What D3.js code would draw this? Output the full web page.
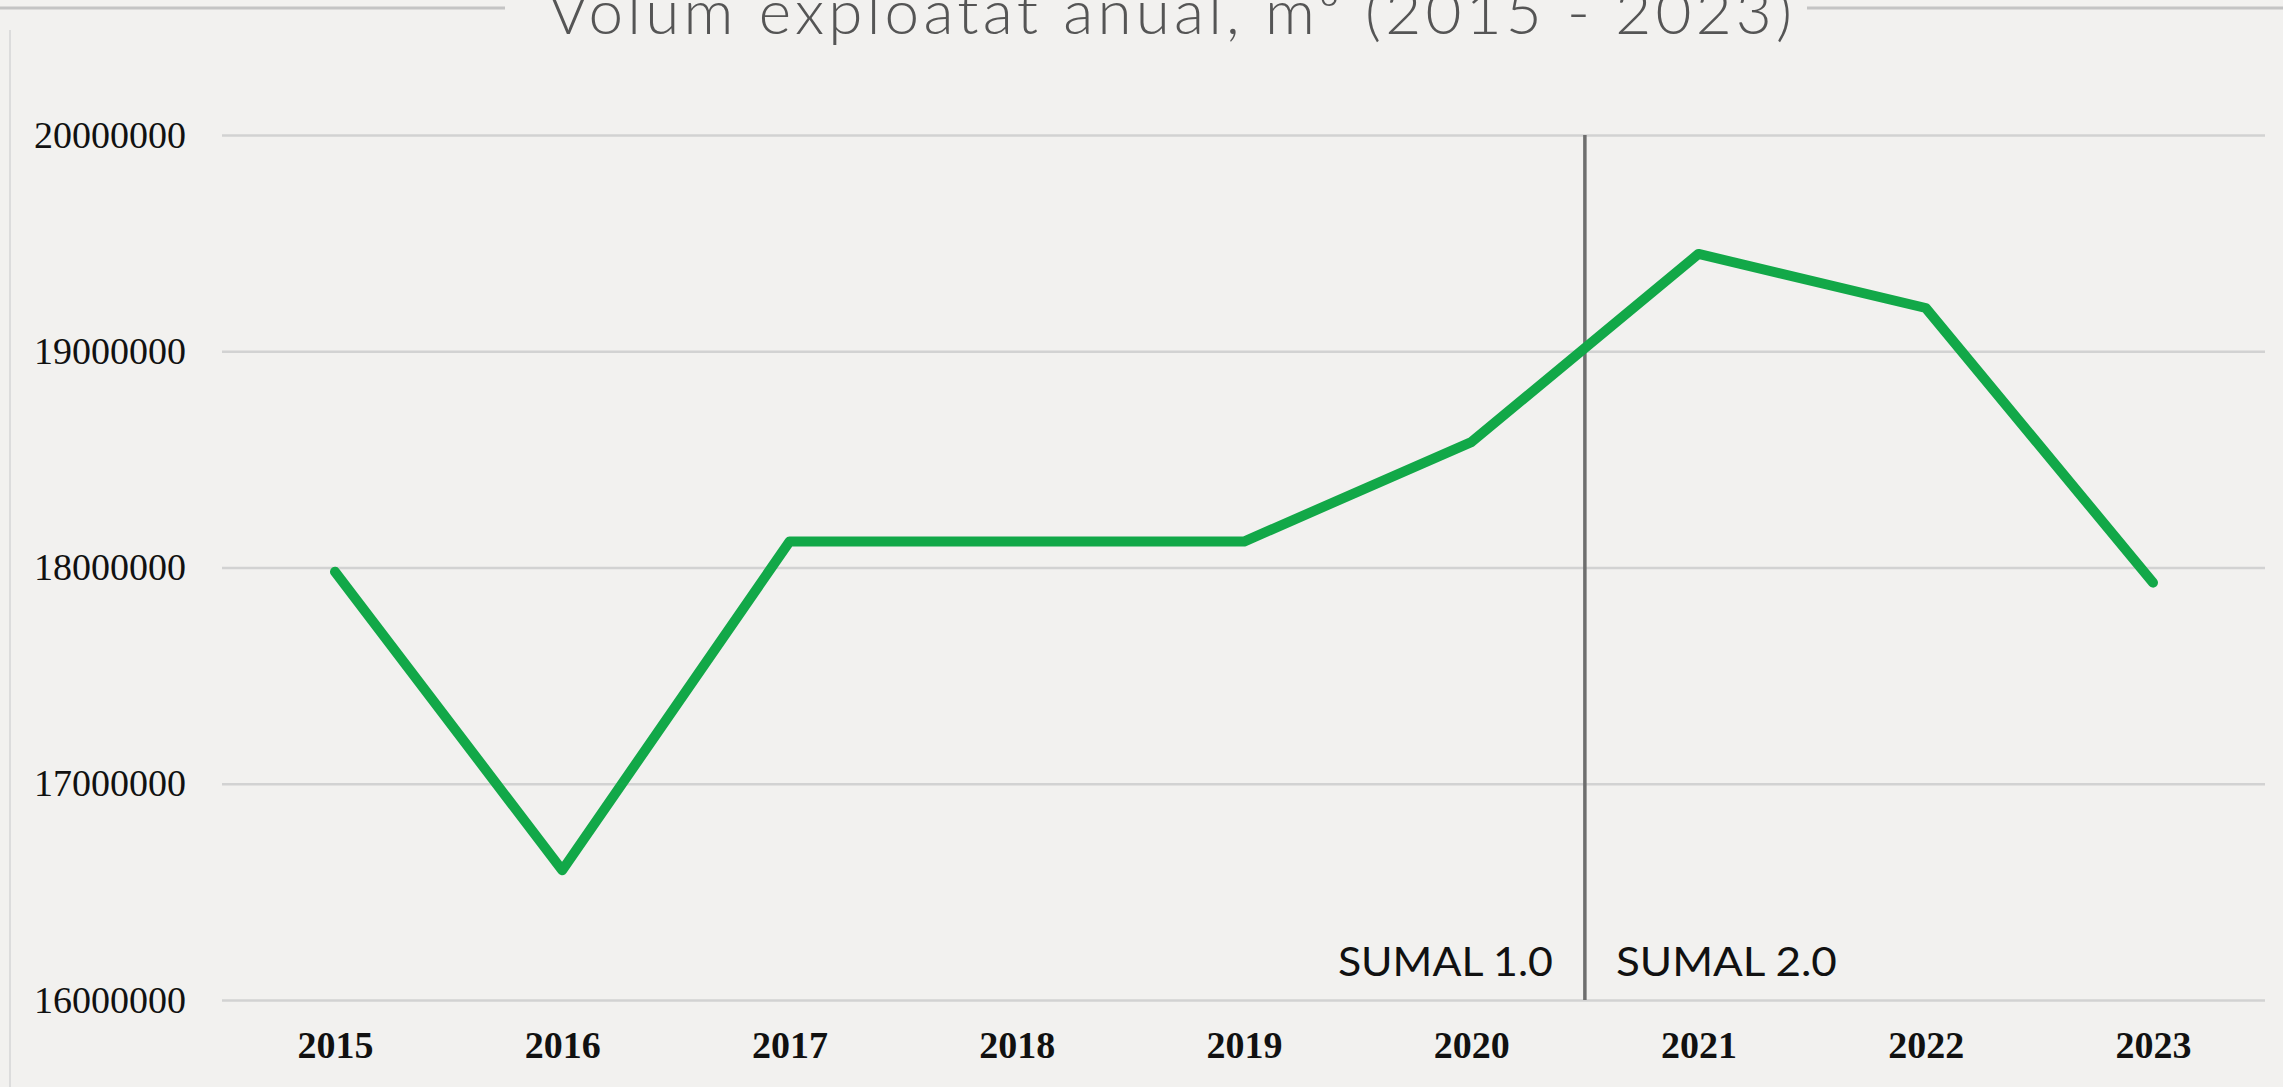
<!DOCTYPE html>
<html>
<head>
<meta charset="utf-8">
<script src="https://cdn.jsdelivr.net/npm/d3@7"></script>
<style>
  html, body { margin: 0; padding: 0; background: #f2f1ef; overflow: hidden; }
</style>
</head>
<body>
<div id="svg"></div>
<script>
// data
const years = [2015, 2016, 2017, 2018, 2019, 2020, 2021, 2022, 2023];
const volumes = [17980000, 16600000, 18120000, 18120000, 18120000, 18580000, 19450000, 19200000, 17930000];
const yTicks = [16000000, 17000000, 18000000, 19000000, 20000000];
const title = "Volum exploatat anual, m³ (2015 - 2023)";
const periodLabels = ["SUMAL 1.0", "SUMAL 2.0"];

// size
const width = 2283;
const height = 1087;

// scales
const x = d3.scalePoint()
  .domain(years)
  .range([335, 2153]);
const y = d3.scaleLinear()
  .domain([16000000, 20000000])
  .range([1000, 135]);

const svg = d3.select("#svg")
  .append("svg")
  .attr("width", width)
  .attr("height", height)
  .attr("viewBox", [0, 0, width, height]);

// paper background
svg.append("rect")
  .attr("width", width)
  .attr("height", height)
  .attr("fill", "#f2f1ef");

// faint frame line on the left
svg.append("line")
  .attr("x1", 10).attr("x2", 10)
  .attr("y1", 30).attr("y2", height)
  .attr("stroke", "#dcdcdc")
  .attr("stroke-width", 2);

// title, cut at the top like the original, with lines each side
svg.append("text")
  .attr("x", 1170)
  .attr("y", 34)
  .attr("text-anchor", "middle")
  .attr("font-family", "Lato")
  .attr("font-weight", 300)
  .attr("font-size", 62)
  .attr("fill", "#555")
  .attr("textLength", 1244)
  .attr("lengthAdjust", "spacing")
  .text(title);

svg.append("line")
  .attr("x1", 0).attr("x2", 505)
  .attr("y1", 8).attr("y2", 8)
  .attr("stroke", "#c4c4c4")
  .attr("stroke-width", 3);
svg.append("line")
  .attr("x1", 1807).attr("x2", width)
  .attr("y1", 8).attr("y2", 8)
  .attr("stroke", "#c4c4c4")
  .attr("stroke-width", 3);

//function creates y axis with gridlines
function yAxis(g) {
  g.attr("transform", "translate(186,0)")
    .call(d3.axisRight(y).tickValues(yTicks).tickSize(2265 - 186).tickPadding(0).tickFormat(d3.format("d")))
    .call(g => g.select(".domain").remove())
    .call(g => g.selectAll(".tick line")
      .attr("x1", 222 - 186)
      .attr("stroke", "#d2d2d2")
      .attr("stroke-width", 2.5))
    .call(g => g.selectAll(".tick text")
      .attr("x", 0)
      .attr("text-anchor", "end")
      .attr("font-family", "Liberation Serif")
      .attr("font-size", 38)
      .attr("fill", "#111"));
}

function xAxis(g) {
  g.attr("transform", "translate(0,1058)")
    .call(d3.axisBottom(x).tickSize(0).tickPadding(0))
    .call(g => g.select(".domain").remove())
    .call(g => g.selectAll(".tick text")
      .attr("dy", 0)
      .attr("font-family", "Liberation Serif")
      .attr("font-weight", "bold")
      .attr("font-size", 38)
      .attr("fill", "#111"));
}

svg.append("g").call(yAxis);
svg.append("g").call(xAxis);

// divider between 2020 and 2021
const splitX = (x(2020) + x(2021)) / 2;
svg.append("line")
  .attr("x1", splitX).attr("x2", splitX)
  .attr("y1", y(20000000)).attr("y2", y(16000000))
  .attr("stroke", "#6e6e6e")
  .attr("stroke-width", 3.5);

svg.append("text")
  .attr("x", splitX - 32)
  .attr("y", 976)
  .attr("text-anchor", "end")
  .attr("font-family", "Lato")
  .attr("font-size", 40)
  .attr("fill", "#111")
  .attr("textLength", 215)
  .attr("lengthAdjust", "spacingAndGlyphs")
  .text(periodLabels[0]);

svg.append("text")
  .attr("x", splitX + 31)
  .attr("y", 976)
  .attr("font-family", "Lato")
  .attr("font-size", 40)
  .attr("fill", "#111")
  .attr("textLength", 221)
  .attr("lengthAdjust", "spacingAndGlyphs")
  .text(periodLabels[1]);

// the line
const line = d3.line()
  .x((d, i) => x(years[i]))
  .y(d => y(d));

svg.append("path")
  .datum(volumes)
  .attr("d", line)
  .attr("fill", "none")
  .attr("stroke", "#12a848")
  .attr("stroke-width", 10)
  .attr("stroke-linejoin", "round")
  .attr("stroke-linecap", "round");
</script>
</body>
</html>
